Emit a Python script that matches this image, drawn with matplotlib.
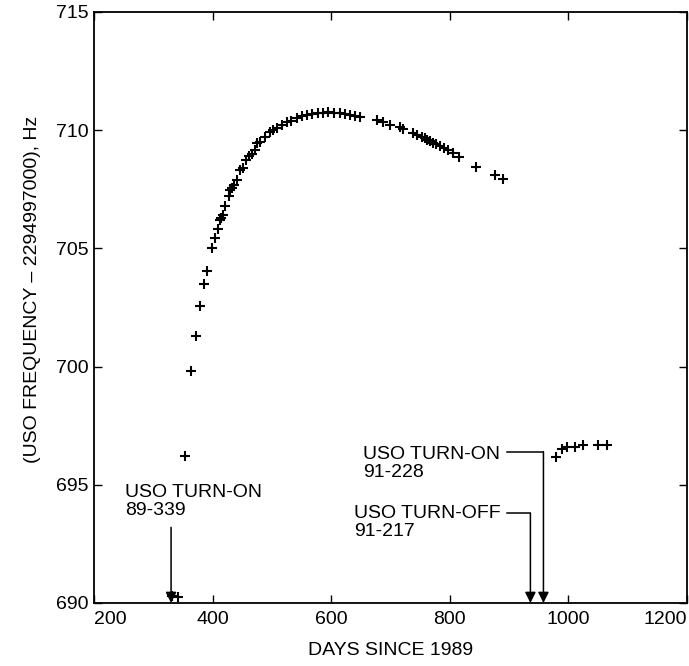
import matplotlib
matplotlib.use('Agg')
from matplotlib import pyplot as plt

plt.rcParams['font.family'] = ['Liberation Sans', 'DejaVu Sans']

# days since 1989 and frequency offset (Hz)
days = [332, 342, 353, 364, 372, 379, 386, 391, 399, 404, 409, 413, 415, 418,
        421, 428, 430, 433, 436, 441, 447, 451, 457, 462, 466, 472, 475, 480,
        488, 497, 502, 508, 517, 525, 533, 542, 550, 559, 567, 578, 587, 595,
        604, 615, 623, 632, 640, 649, 677, 688, 699, 716, 721, 738, 745, 753,
        758, 762, 767, 772, 777, 783, 790, 797, 805, 816, 844, 876, 890,
        979, 989, 998, 1011, 1025, 1050, 1065]
freq = [690.3, 690.25, 696.2, 699.8, 701.3, 702.56, 703.5, 704.04, 705.0,
        705.45, 705.8, 706.2, 706.3, 706.4, 706.8, 707.2, 707.47, 707.54,
        707.7, 707.9, 708.3, 708.4, 708.74, 708.9, 709.0, 709.16, 709.44,
        709.5, 709.73, 709.94, 710.0, 710.08, 710.22, 710.33, 710.4, 710.5,
        710.6, 710.64, 710.69, 710.71, 710.74, 710.75, 710.74, 710.71, 710.69,
        710.64, 710.6, 710.57, 710.43, 710.33, 710.22, 710.14, 710.05, 709.9,
        709.8, 709.7, 709.65, 709.6, 709.55, 709.46, 709.4, 709.33, 709.25,
        709.16, 709.04, 708.87, 708.44, 708.1, 707.94,
        696.18, 696.5, 696.6, 696.6, 696.7, 696.7, 696.7]

xticks = [200, 400, 600, 800, 1000, 1200]
yticks = [690, 695, 700, 705, 710, 715]

# events: (label, arrow day, text x, text y, elbow day, elbow y)
events = [
    ('USO TURN-ON\n89-339', 330, 252, 694.3, None, 693.2),
    ('USO TURN-OFF\n91-217', 936, 638, 693.4, 896, 693.8),
    ('USO TURN-ON\n91-228', 958, 654, 695.9, 896, 696.4),
]

fig = plt.figure(figsize=(6.89, 6.66), dpi=100)
ax = fig.add_axes([0.1364, 0.0946, 0.8606, 0.8874])

ax.plot(days, freq, '+', color='black', markersize=7, markeredgewidth=1.5)

for label, xa, xt, yt, xe, ye in events:
    ax.text(xt, yt, label, fontsize=14, ha='left', va='center',
            linespacing=1.05)
    if xe is not None:
        ax.plot([xe, xa], [ye, ye], color='black', lw=1.1)
    ax.annotate('', xy=(xa, 690), xytext=(xa, ye),
                arrowprops=dict(arrowstyle='-|>', color='black', lw=1.1,
                                mutation_scale=16, shrinkA=0, shrinkB=0))

ax.set_xlim(200, 1200)
ax.set_ylim(690, 715)
ax.set_xticks(xticks)
ax.set_yticks(yticks)
ax.tick_params(direction='in', length=6, width=1, top=True, right=True,
               labelsize=14)
ax.tick_params(axis='x', pad=6)
ax.tick_params(axis='y', pad=4)
for s in ax.spines.values():
    s.set_linewidth(1.3)

# end labels sit inside the axis span, as in the original
xlabs = ax.get_xticklabels()
xlabs[0].set_horizontalalignment('left')
xlabs[-1].set_horizontalalignment('right')

ax.set_xlabel('DAYS SINCE 1989', fontsize=14, labelpad=10)
ax.set_ylabel('(USO FREQUENCY \u2013 2294997000), Hz', fontsize=14)
ax.yaxis.set_label_coords(-0.09, 0.53)

fig.savefig('out.png', dpi=100)
